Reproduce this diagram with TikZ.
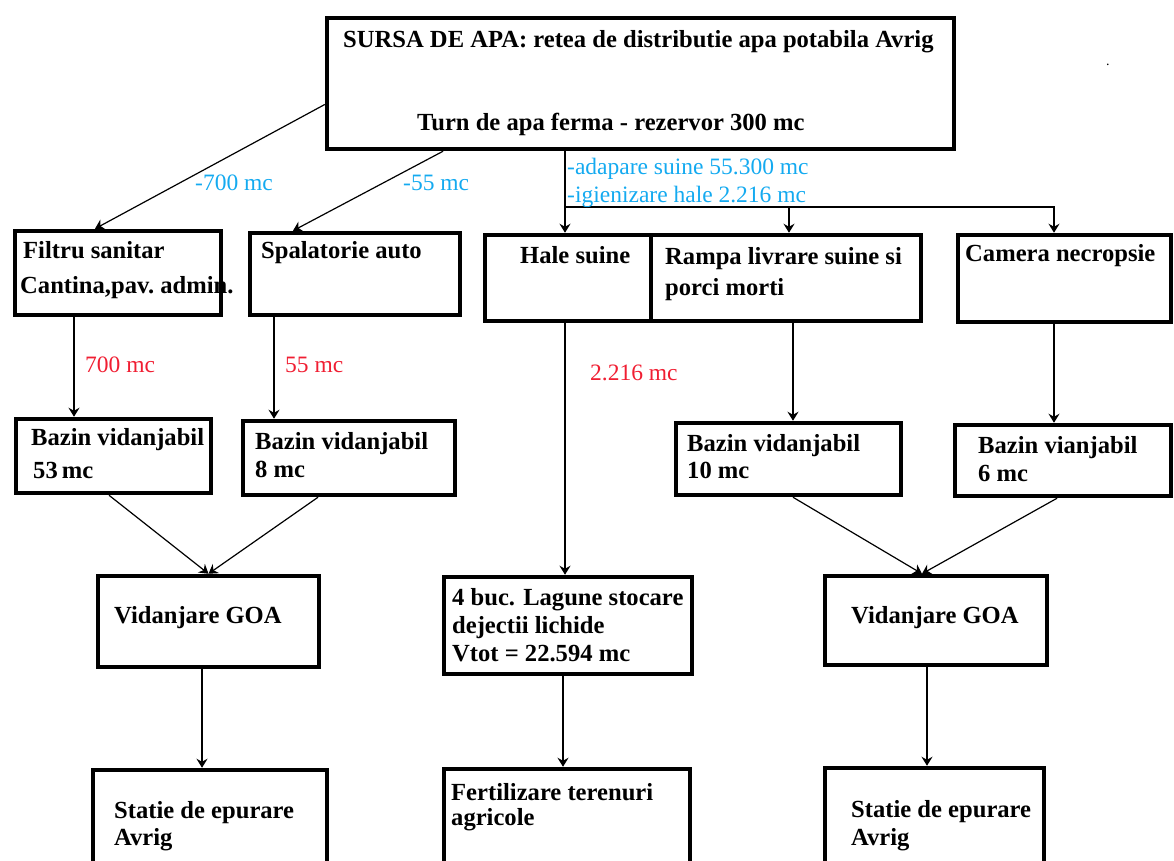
\documentclass[tikz,border=0pt]{standalone}
\usepackage{fontspec}
\setmainfont{Liberation Serif}
\usetikzlibrary{arrows.meta,fit}
\definecolor{lblue}{RGB}{20,170,240}
\definecolor{lred}{RGB}{240,30,50}
\tikzset{
  box/.style={draw, line width=4.5pt, inner sep=0pt, fill=white},
  conn/.style={line width=1.2pt, -{Stealth[length=9pt,width=11pt,inset=3pt]}},
  txt/.style={inner sep=0pt, anchor=base west, font=\fontsize{24.6}{27}\selectfont\bfseries},
  btxt/.style={inner sep=0pt, anchor=base west, text=lblue, font=\fontsize{23.5}{26}\selectfont},
  rtxt/.style={inner sep=0pt, anchor=base west, text=lred, font=\fontsize{23.5}{26}\selectfont}
}
\begin{document}
\begin{tikzpicture}[x=1pt,y=-1pt]
\useasboundingbox (0,0) rectangle (1174,861);
\clip (0,0) rectangle (1174,861);
% boxes
\node[box, fit={(327,18) (954,149)}] (src) {};
\node[box, fit={(15,231) (221,315)}] (filtru) {};
\node[box, fit={(250,233) (460,315)}] (spal) {};
\node[box, fit={(485,235) (651,321)}] (hale) {};
\node[box, fit={(651,235) (921,321)}] (rampa) {};
\node[box, fit={(958,235) (1171,322)}] (camera) {};
\node[box, fit={(16,419) (211,493)}] (baz53) {};
\node[box, fit={(243,421) (455,495)}] (baz8) {};
\node[box, fit={(676,423) (901,495)}] (baz10) {};
\node[box, fit={(955,425) (1171,496)}] (baz6) {};
\node[box, fit={(98,576) (319,667)}] (vidL) {};
\node[box, fit={(444,577) (692,674)}] (lag) {};
\node[box, fit={(825,576) (1047,665)}] (vidR) {};
\node[box, fit={(93,770) (327,900)}] (statL) {};
\node[box, fit={(444,769) (690,900)}] (fert) {};
\node[box, fit={(825,768) (1044,900)}] (statR) {};
% connectors
\draw[conn] ([yshift=-21pt]src.west) -- ([xshift=-23pt]filtru.north);
\draw[conn] ([xshift=-197.5pt]src.south) -- ([xshift=-62pt]spal.north);
\draw[conn] ([xshift=-75.5pt]src.south) -- ([xshift=-3pt]hale.north);
\coordinate (j) at (565,207);
\draw[conn] (j) -| ([xshift=3pt]rampa.north);
\draw[conn] (j) -| ([xshift=-10.5pt]camera.north);
\draw[conn] ([xshift=-44pt]filtru.south) -- ([xshift=-39.5pt]baz53.north);
\draw[conn] ([xshift=-81pt]spal.south) -- ([xshift=-75pt]baz8.north);
\draw[conn] ([xshift=-3pt]hale.south) -- ([xshift=-3pt]lag.north);
\draw[conn] ([xshift=7pt]rampa.south) -- ([xshift=4.5pt]baz10.north);
\draw[conn] ([xshift=-10.5pt]camera.south) -- ([xshift=-9pt]baz6.north);
\draw[conn] ([xshift=-4.5pt]baz53.south) -- (vidL.north);
\draw[conn] ([xshift=-31pt]baz8.south) -- (vidL.north);
\draw[conn] ([xshift=4.5pt]baz10.south) -- ([xshift=-14pt]vidR.north);
\draw[conn] ([xshift=-6pt]baz6.south) -- ([xshift=-14pt]vidR.north);
\draw[conn] ([xshift=-6.5pt]vidL.south) -- ([xshift=-8pt]statL.north);
\draw[conn] ([xshift=-5pt]lag.south) -- ([xshift=-4pt]fert.north);
\draw[conn] ([xshift=-9pt]vidR.south) -- ([xshift=-7.5pt]statR.north);
% texts
\node[txt] (t1) at (343,48) {SURSA DE APA: retea de distributie apa potabila Avrig};
\node[txt] (t2) at (417,131) {Turn de apa ferma - rezervor 300 mc};
\node[btxt] (l1) at (195,190) {-700 mc};
\node[btxt] (l2) at (403,190) {-55 mc};
\node[btxt] (l3) at (567,175) {-adapare suine 55.300 mc};
\node[btxt] (l4) at (567,202) {-igienizare hale 2.216 mc};
\node[txt] (t3) at (23,258) {Filtru sanitar};
\node[txt] (t4) at (20,293) {Cantina,pav.\ admin.};
\node[txt] (t5) at (261,258) {Spalatorie auto};
\node[txt] (t6) at (520,263) {Hale suine};
\node[txt] (t7) at (665,264) {Rampa livrare suine si};
\node[txt] (t8) at (665,295) {porci morti};
\node[txt] (t9) at (965,261) {Camera necropsie};
\node[rtxt] (r1) at (85,372) {700 mc};
\node[rtxt] (r2) at (285,372) {55 mc};
\node[rtxt] (r3) at (590,380) {2.216 mc};
\node[txt] (t10) at (31,445) {Bazin vidanjabil};
\node[txt] (t11) at (33,478) {53\,mc};
\node[txt] (t12) at (255,449) {Bazin vidanjabil};
\node[txt] (t13) at (255,477) {8 mc};
\node[txt] (t14) at (687,451) {Bazin vidanjabil};
\node[txt] (t15) at (687,478) {10 mc};
\node[txt] (t16) at (978,453) {Bazin vianjabil};
\node[txt] (t17) at (978,481) {6 mc};
\node[txt] (t18) at (114,623) {Vidanjare GOA};
\node[txt] (t19) at (851,623) {Vidanjare GOA};
\node[txt] (t20) at (452,605) {4 buc. Lagune stocare};
\node[txt] (t21) at (452,633) {dejectii lichide};
\node[txt] (t22) at (452,661) {Vtot = 22.594 mc};
\node[txt] (t23) at (114,818) {Statie de epurare};
\node[txt] (t24) at (114,845) {Avrig};
\node[txt] (t25) at (851,817) {Statie de epurare};
\node[txt] (t26) at (851,845) {Avrig};
\node[txt] (t27) at (451,800) {Fertilizare terenuri};
\node[txt] (t28) at (451,825) {agricole};
\node[inner sep=0pt, anchor=base west, font=\fontsize{14}{16}\selectfont] (dot) at (1106,66) {.};
\end{tikzpicture}
\end{document}
